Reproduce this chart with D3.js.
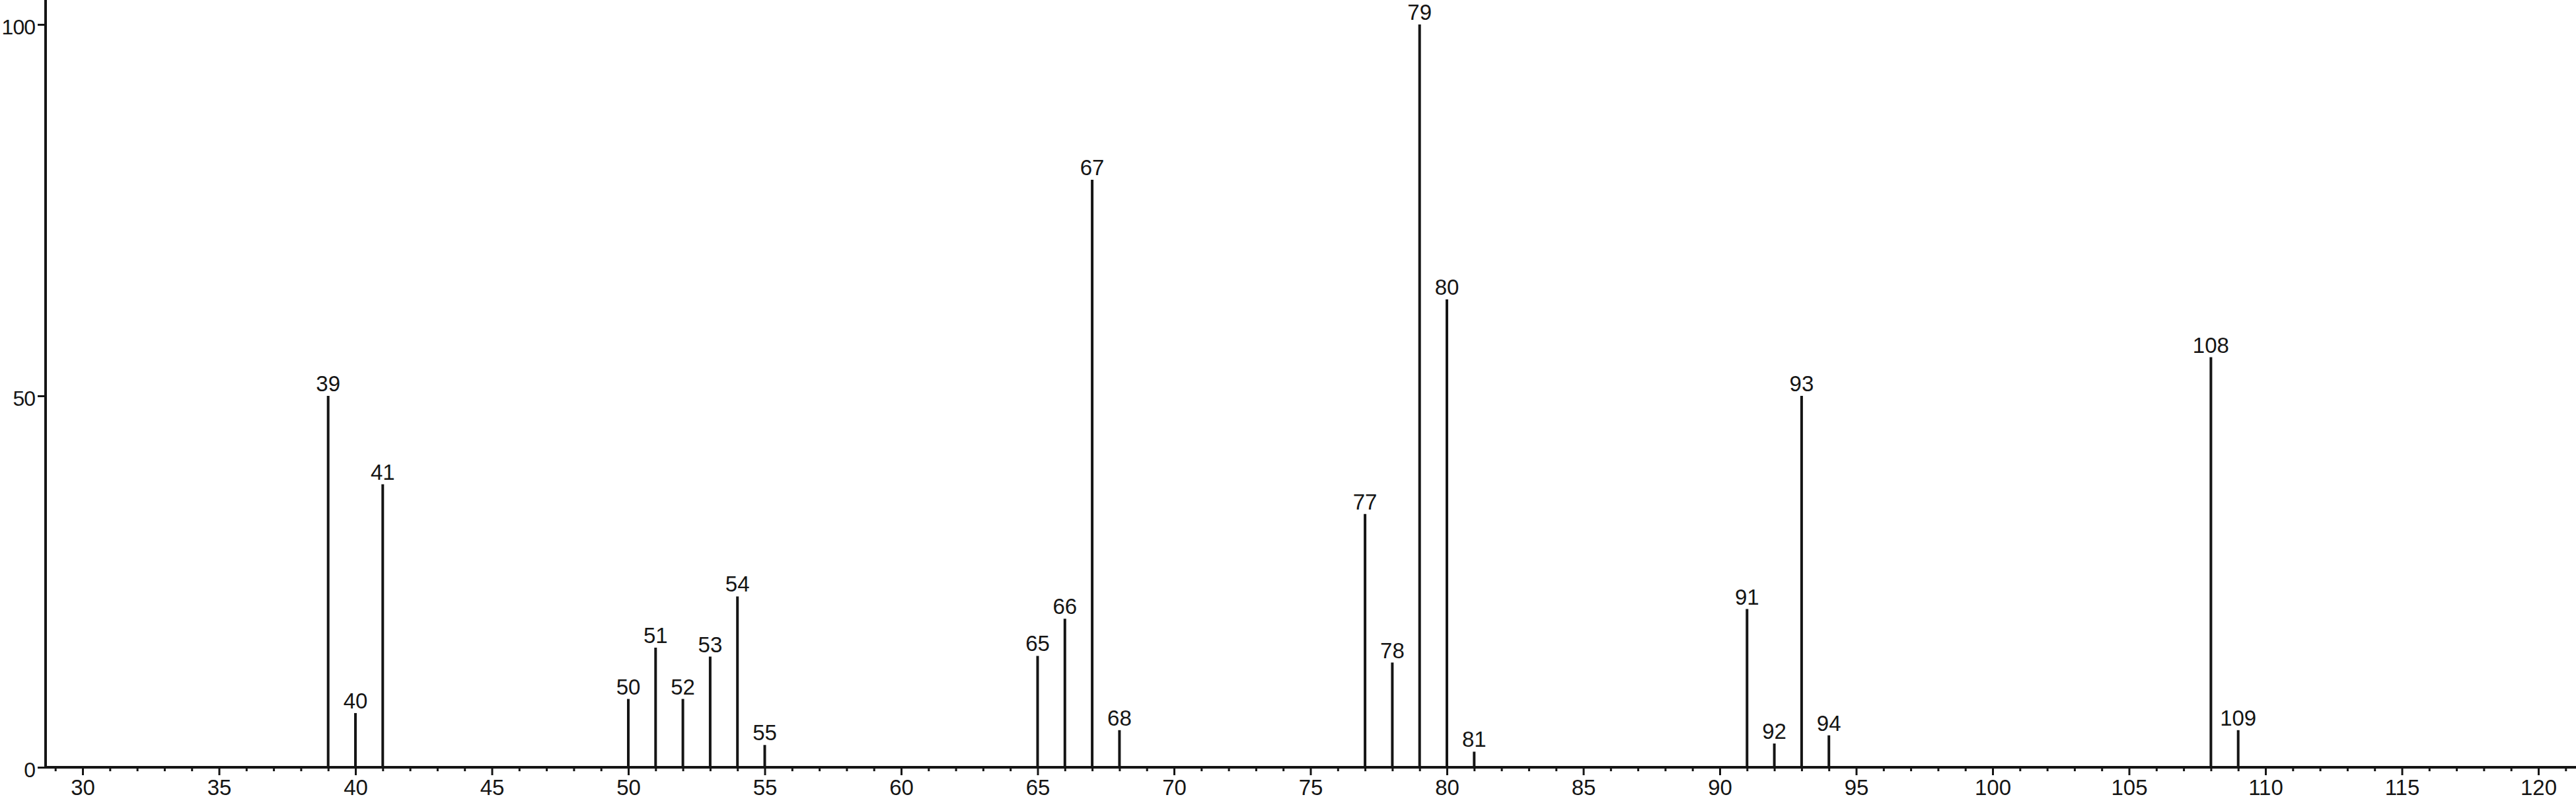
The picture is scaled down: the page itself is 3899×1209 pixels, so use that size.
<!DOCTYPE html>
<html>
<head>
    <meta charset="utf-8">
    <title>mass-spectrum</title>
    <style>
body { margin: 0; background: #fff; }
svg { display: block; }
.stem { stroke: #151515; stroke-width: 4; }
.peak-label { font-family: "Liberation Sans", Arial, Helvetica, sans-serif; font-size: 33px; fill: #151515; text-anchor: middle; }
.axis text { font-family: "Liberation Sans", Arial, Helvetica, sans-serif; font-size: 33px; fill: #151515; }
.axis.y-axis text { font-size: 32px; letter-spacing: -1px; }
.axis line { stroke: #151515; stroke-width: 3; }
.axis-line { stroke: #151515; stroke-width: 4; }
    </style>
</head>
<body>
    <script src="https://cdn.jsdelivr.net/npm/d3@7"></script>
    <script>
        // m/z of each peak and its relative intensity (%)
        var mz = [39, 40, 41, 50, 51, 52, 53, 54, 55, 65, 66, 67, 68, 77, 78, 79, 80, 81, 91, 92, 93, 94, 108, 109];
        var intensity = [50, 7.3, 38.1, 9.2, 16.1, 9.2, 14.9, 23, 3, 15, 20, 79.1, 5, 34.1, 14.1, 100, 63, 2.1, 21.3, 3.2, 50, 4.3, 55.2, 5];
        var xTicks = [30, 35, 40, 45, 50, 55, 60, 65, 70, 75, 80, 85, 90, 95, 100, 105, 110, 115, 120];
        var yTicks = [0, 50, 100];

        var totalWidth = 3899, totalHeight = 1209;
        var axisX = 69, axisY = 1161;

        var svg = d3.select("body").append("svg")
            .attr("width", totalWidth)
            .attr("height", totalHeight);

        var x = d3.scaleLinear().domain([30, 120]).range([125, 3842]);
        var y = d3.scaleLinear().domain([0, 100]).range([axisY, 37]);

        var data = mz.map(function (m, i) { return { mz: m, v: intensity[i] }; });

        // minor ticks every unit
        var minor = d3.range(29, 122).filter(function (d) { return d % 5 !== 0; });
        svg.append("g")
            .attr("class", "axis")
            .attr("transform", "translate(0," + axisY + ")")
            .call(d3.axisBottom(x).tickValues(minor).tickSize(6).tickFormat(""))
            .call(function (g) { g.select(".domain").remove(); });

        // major ticks with labels
        svg.append("g")
            .attr("class", "axis")
            .attr("transform", "translate(0," + axisY + ")")
            .call(d3.axisBottom(x).tickValues(xTicks).tickSize(12).tickPadding(7))
            .call(function (g) { g.select(".domain").remove(); });

        svg.append("g")
            .attr("class", "axis y-axis")
            .attr("transform", "translate(" + axisX + ",0)")
            .call(d3.axisLeft(y).tickValues(yTicks).tickSize(12).tickPadding(4))
            .call(function (g) {
                g.select(".domain").remove();
                g.selectAll("text").attr("dy", "0.45em");
            });

        // axis lines
        svg.append("line").attr("class", "axis-line")
            .attr("x1", axisX).attr("x2", totalWidth)
            .attr("y1", axisY).attr("y2", axisY);
        svg.append("line").attr("class", "axis-line")
            .attr("x1", axisX).attr("x2", axisX)
            .attr("y1", 0).attr("y2", axisY + 2);

        // stems
        svg.selectAll(".stem")
            .data(data)
            .enter().append("line")
            .attr("class", "stem")
            .attr("x1", function (d) { return x(d.mz); })
            .attr("x2", function (d) { return x(d.mz); })
            .attr("y1", y(0))
            .attr("y2", function (d) { return y(d.v); });

        // peak labels
        svg.selectAll(".peak-label")
            .data(data)
            .enter().append("text")
            .attr("class", "peak-label")
            .attr("x", function (d) { return x(d.mz); })
            .attr("y", function (d) { return y(d.v) - 7; })
            .text(function (d) { return d.mz; });
    </script>
</body>
</html>
